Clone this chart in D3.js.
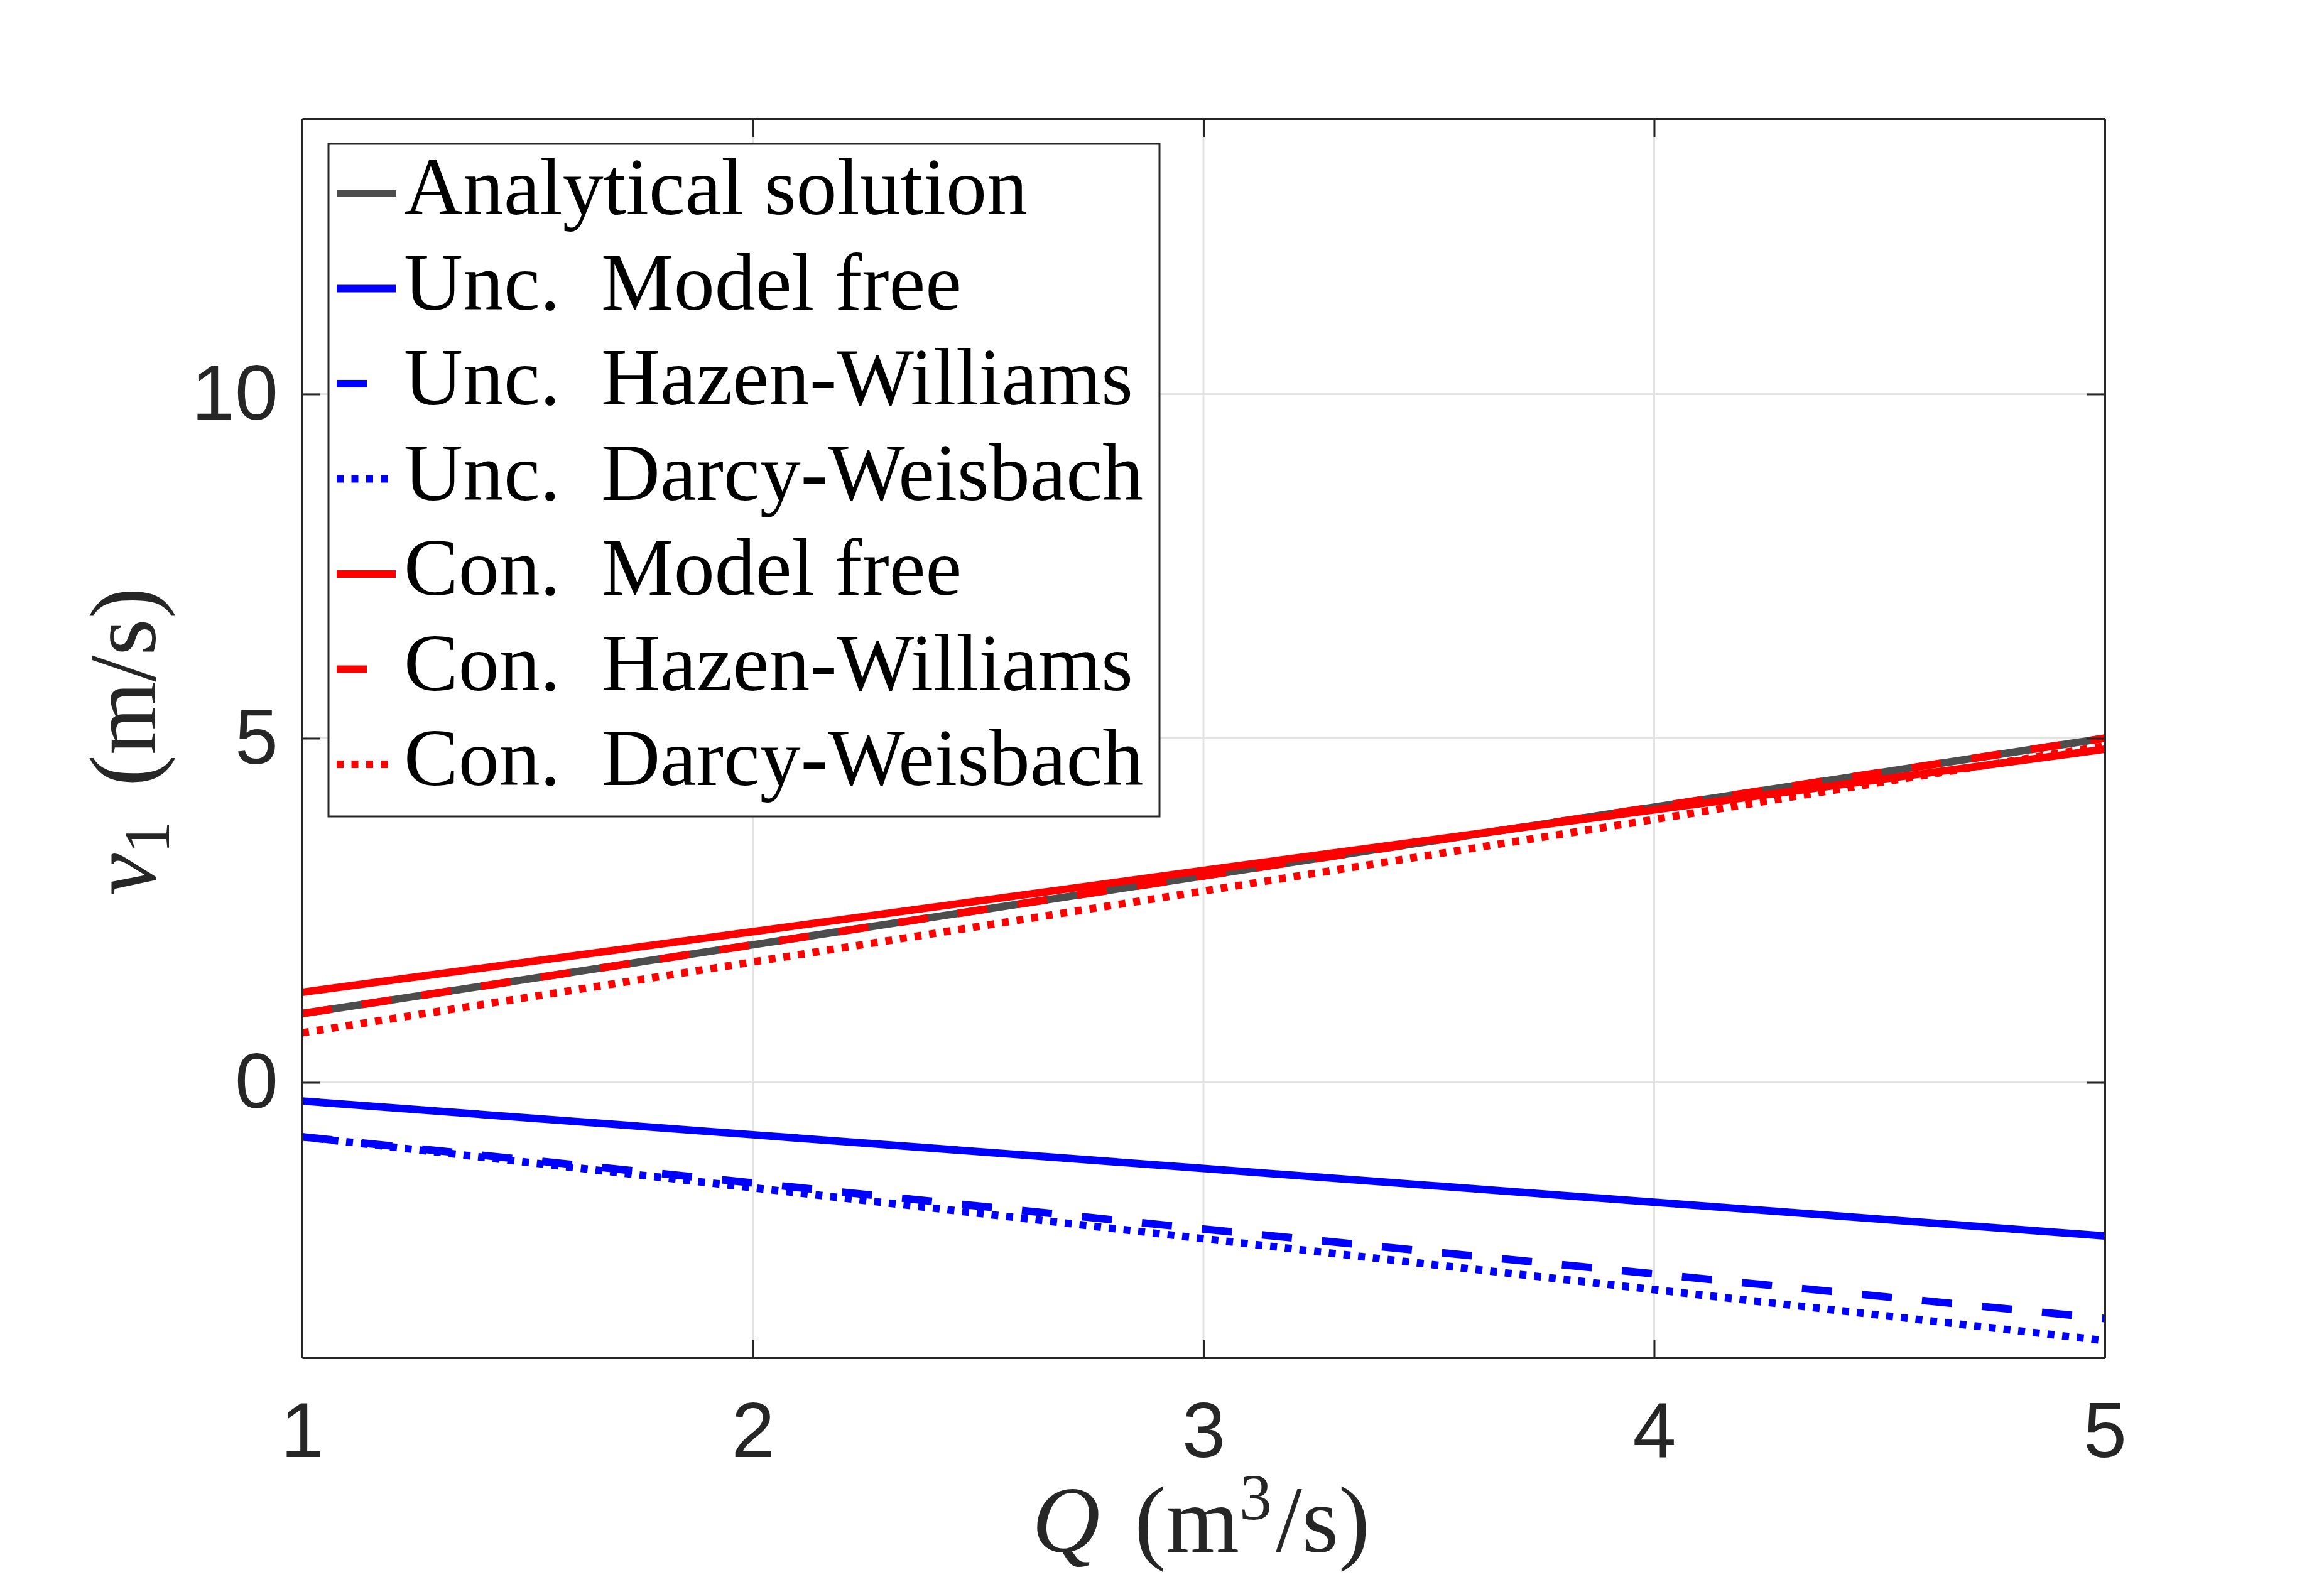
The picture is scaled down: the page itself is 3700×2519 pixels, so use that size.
<!DOCTYPE html>
<html><head><meta charset="utf-8">
<script src="https://cdn.jsdelivr.net/npm/d3@7"></script>
<style>body{margin:0;background:#fff}svg{display:block}</style>
</head><body>
<script>
// ---- data ----
const Q = [1, 2, 3, 4, 5];
const analytical   = [1.00, 2.00, 3.00, 4.00, 5.00];
const uncModelFree = [-0.27, -0.76, -1.25, -1.74, -2.23];
const uncHazen     = [-0.79, -1.46, -2.13, -2.78, -3.43];
const uncDarcy     = [-0.79, -1.53, -2.27, -3.01, -3.75];
const conModelFree = [1.31, 2.19, 3.08, 3.96, 4.84];
const conHazen     = [1.00, 2.00, 3.00, 4.00, 5.00];
const conDarcy     = [0.72, 1.75, 2.78, 3.82, 4.89];
const seriesNames  = ["Analytical solution", "Unc.  Model free", "Unc.  Hazen-Williams",
                      "Unc.  Darcy-Weisbach", "Con.  Model free", "Con.  Hazen-Williams",
                      "Con.  Darcy-Weisbach"];
const xTicks = [1, 2, 3, 4, 5];
const yTicks = [0, 5, 10];

// ---- styles ----
const GRAY = "#4d4d4d", BLUE = "#0000ff", RED = "#ff0000";
const SOLID = null, DASH = "48,48", DOT = "11,12.5";
const series = [
  {name: seriesNames[0], v: analytical,   c: GRAY, d: SOLID},
  {name: seriesNames[1], v: uncModelFree, c: BLUE, d: SOLID},
  {name: seriesNames[2], v: uncHazen,     c: BLUE, d: DASH},
  {name: seriesNames[3], v: uncDarcy,     c: BLUE, d: DOT},
  {name: seriesNames[4], v: conModelFree, c: RED,  d: SOLID},
  {name: seriesNames[5], v: conHazen,     c: RED,  d: DASH},
  {name: seriesNames[6], v: conDarcy,     c: RED,  d: DOT}
];

const W = 3700, H = 2519;
const m = {l: 481, r: 3351, t: 189, b: 2162};
const LW = 12;
const AX = "#262626";
const SANS = "'Liberation Sans', Arial, Helvetica, sans-serif";
const SERIF = "'Liberation Serif', 'Times New Roman', serif";

const svg = d3.select("body").append("svg").attr("width", W).attr("height", H);
svg.append("rect").attr("width", W).attr("height", H).attr("fill", "#fff");

const x = d3.scaleLinear().domain([1, 5]).range([m.l, m.r]);
const y = d3.scaleLinear().domain([-4, 14]).range([m.b, m.t]);

// grid
const grid = svg.append("g").attr("stroke", "#e3e3e3").attr("stroke-width", 3);
grid.selectAll("line.gx").data(xTicks).join("line").attr("class", "gx")
  .attr("x1", d => x(d)).attr("x2", d => x(d)).attr("y1", m.t).attr("y2", m.b);
grid.selectAll("line.gy").data(yTicks).join("line").attr("class", "gy")
  .attr("y1", d => y(d)).attr("y2", d => y(d)).attr("x1", m.l).attr("x2", m.r);

// lines
svg.append("clipPath").attr("id", "clip").append("rect")
  .attr("x", m.l).attr("y", m.t).attr("width", m.r - m.l).attr("height", m.b - m.t);
const line = d3.line().x((d, i) => x(Q[i])).y(d => y(d));
const lg = svg.append("g").attr("clip-path", "url(#clip)");
series.forEach(s => {
  lg.append("path").attr("d", line(s.v)).attr("fill", "none")
    .attr("stroke", s.c).attr("stroke-width", LW)
    .attr("stroke-dasharray", s.d).attr("stroke-linecap", "butt")
    .attr("stroke-linejoin", "round");
});

// axes
function styleAxis(g) {
  g.select(".domain").attr("stroke", AX).attr("stroke-width", 3);
  g.selectAll(".tick line").attr("stroke", AX).attr("stroke-width", 3);
  g.selectAll(".tick text").attr("fill", AX).attr("font-family", SANS).attr("font-size", 124);
}
svg.append("g").attr("transform", `translate(0,${m.b})`)
  .call(d3.axisBottom(x).tickValues(xTicks).tickSizeInner(-29).tickSizeOuter(0).tickPadding(70).tickFormat(d3.format("d")))
  .call(styleAxis);
svg.append("g").attr("transform", `translate(0,${m.t})`)
  .call(d3.axisTop(x).tickValues(xTicks).tickSizeInner(-29).tickSizeOuter(0).tickFormat(""))
  .call(styleAxis);
svg.append("g").attr("transform", `translate(${m.l},0)`)
  .call(d3.axisLeft(y).tickValues(yTicks).tickSizeInner(-29).tickSizeOuter(0).tickPadding(38).tickFormat(d3.format("d")))
  .call(styleAxis);
svg.append("g").attr("transform", `translate(${m.r},0)`)
  .call(d3.axisRight(y).tickValues(yTicks).tickSizeInner(-29).tickSizeOuter(0).tickFormat(""))
  .call(styleAxis);

// axis labels
const xl = svg.append("text").attr("x", (m.l + m.r) / 2 - 4).attr("y", 2471)
  .attr("text-anchor", "middle").attr("font-family", SERIF).attr("font-size", 150)
  .attr("fill", AX).style("white-space", "pre");
xl.append("tspan").attr("font-style", "italic").text("Q");
xl.append("tspan").attr("dx", 55).text("(m");
xl.append("tspan").attr("font-size", 104).attr("dy", -52).text("3");
xl.append("tspan").attr("dy", 52).attr("dx", 6).text("/s)");

const yl = svg.append("text").attr("transform", `translate(247,${(m.t + m.b) / 2 + 5}) rotate(-90)`)
  .attr("text-anchor", "middle").attr("font-family", SERIF).attr("font-size", 150)
  .attr("fill", AX).style("white-space", "pre");
yl.append("tspan").attr("font-style", "italic").text("v");
yl.append("tspan").attr("font-size", 104).attr("dy", 22).text("1");
yl.append("tspan").attr("dy", -22).attr("dx", 55).text("(m/s)");

// legend
const L = {x: 523, y: 229, w: 1323, h: 1071, row0: 308, dy: 151.5, sx0: 536, sx1: 630, tx: 643};
const leg = svg.append("g");
leg.append("rect").attr("x", L.x).attr("y", L.y).attr("width", L.w).attr("height", L.h)
  .attr("fill", "#fff").attr("stroke", AX).attr("stroke-width", 3);
series.forEach((s, i) => {
  const yy = L.row0 + i * L.dy;
  leg.append("line").attr("x1", L.sx0).attr("x2", L.sx1).attr("y1", yy).attr("y2", yy)
    .attr("stroke", s.c).attr("stroke-width", LW).attr("stroke-dasharray", s.d);
  leg.append("text").attr("x", L.tx).attr("y", yy + 33)
    .attr("font-family", SERIF).attr("font-size", 130).attr("fill", "#000")
    .style("white-space", "pre").text(s.name);
});
</script>
</body></html>
